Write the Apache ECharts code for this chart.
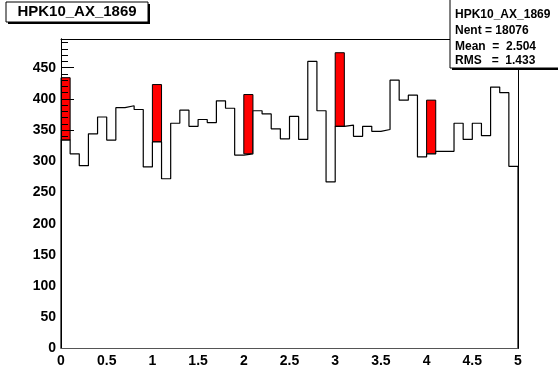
<!DOCTYPE html>
<html>
<head>
<meta charset="utf-8">
<script src="https://cdn.jsdelivr.net/npm/echarts@6/dist/echarts.min.js"></script>
<style>
  html, body { margin: 0; padding: 0; background: #fff; }
  #chart { width: 558px; height: 373px; }
</style>
</head>
<body>
<div id="chart"></div>
<script>
// ---- data ----
const histName = "HPK10_AX_1869";
const xMin = 0;
const xMax = 5;
const binWidth = 0.1;
const counts = [
  334, 312, 293, 344, 371, 334, 386, 389, 383, 291,
  331, 272, 361, 382, 356, 367, 362, 397, 385, 310,
  312, 381, 376, 352, 336, 372, 335, 460, 381, 267,
  356, 358, 340, 356, 348, 351, 430, 398, 406, 307,
  312, 316, 316, 361, 335, 361, 341, 419, 410, 292
];
const redStart = [0, 1, 2, 3, 4];
const redLow = [334, 331, 312, 356, 312];
const redHigh = [434, 423, 407, 474, 398];
const yMax = 496;
const statsLines = [
  "HPK10_AX_1869",
  "Nent = 18076",
  "Mean  =  2.504",
  "RMS   =  1.433"
];

// ---- build series data ----
const stepData = [[xMin, 0]];
counts.forEach((c, i) => stepData.push([xMin + i * binWidth, c]));
stepData.push([xMax, counts[counts.length - 1]]);
stepData.push([xMax, 0]);

const redData = redStart.map((x, i) => [x, redLow[i], redHigh[i]]);

const FONT = "'Liberation Sans', Arial, Helvetica, sans-serif";

const chart = echarts.init(document.getElementById('chart'), null, { renderer: 'canvas' });
chart.setOption({
  animation: false,
  backgroundColor: '#fff',
  grid: { left: 61, right: 40, top: 39, bottom: 24.5, containLabel: false },
  xAxis: [
    {
      type: 'value', min: xMin, max: xMax, interval: 0.5, position: 'bottom', z: 5,
      axisLine: { show: true, onZero: false, lineStyle: { color: '#555', width: 1 } },
      axisTick: { show: false },
      splitLine: { show: false },
      axisLabel: { color: '#000', fontFamily: FONT, fontWeight: 'bold', fontSize: 14, margin: 6 }
    },
    {
      type: 'value', min: xMin, max: xMax, position: 'top', z: 5,
      axisLine: { show: true, onZero: false, lineStyle: { color: '#000', width: 1 } },
      axisTick: { show: false }, axisLabel: { show: false }, splitLine: { show: false }
    }
  ],
  yAxis: [
    {
      type: 'value', min: 0, max: yMax, interval: 50, position: 'left', z: 1,
      axisLine: { show: true, onZero: false, lineStyle: { color: '#000', width: 1 } },
      axisTick: { show: true, inside: true, length: 13, lineStyle: { color: '#000', width: 1 } },
      minorTick: { show: true, splitNumber: 5, length: 7, lineStyle: { color: '#000', width: 1 } },
      splitLine: { show: false },
      axisLabel: { color: '#000', fontFamily: FONT, fontWeight: 'bold', fontSize: 14, margin: 5, showMaxLabel: false }
    },
    {
      type: 'value', min: 0, max: yMax, position: 'right', z: 5,
      axisLine: { show: true, onZero: false, lineStyle: { color: '#000', width: 1 } },
      axisTick: { show: false }, axisLabel: { show: false }, splitLine: { show: false }
    },
    {
      type: 'value', min: 0, max: yMax, position: 'left', offset: 0, z: 5,
      axisLine: { show: true, onZero: false, lineStyle: { color: '#000', width: 1 } },
      axisTick: { show: false }, axisLabel: { show: false }, splitLine: { show: false }
    }
  ],
  series: [
    {
      type: 'custom', xAxisIndex: 0, yAxisIndex: 0, z: 0,
      data: redData,
      renderItem: function (params, api) {
        const x0 = api.value(0), lo = api.value(1), hi = api.value(2);
        const p1 = api.coord([x0, hi]);
        const p2 = api.coord([x0 + binWidth, lo]);
        return {
          type: 'rect',
          shape: { x: p1[0], y: p1[1], width: p2[0] - p1[0], height: p2[1] - p1[1] },
          style: { fill: '#ff0000', stroke: '#000', lineWidth: 1 }
        };
      }
    },
    {
      type: 'line', xAxisIndex: 0, yAxisIndex: 0,
      data: stepData, step: 'end', symbol: 'none',
      lineStyle: { color: '#000', width: 1.2 },
      areaStyle: { color: '#fff', opacity: 1, origin: 'start' },
      z: 2
    }
  ],
  graphic: [
    { type: 'rect', shape: { x: 8, y: 4, width: 142, height: 20 }, style: { fill: '#000' }, z: 10 },
    { type: 'rect', shape: { x: 6, y: 2, width: 142, height: 20 }, style: { fill: '#fff', stroke: '#000', lineWidth: 1 }, z: 11 },
    { type: 'text', x: 77, y: 12, z: 12,
      style: { text: histName, fill: '#000', font: "bold 15px " + FONT, align: 'center', verticalAlign: 'middle' } },
    { type: 'rect', shape: { x: 452, y: 1, width: 110, height: 69 }, style: { fill: '#000' }, z: 10 },
    { type: 'rect', shape: { x: 450, y: -1, width: 110, height: 69 }, style: { fill: '#fff', stroke: '#000', lineWidth: 1 }, z: 11 },
    { type: 'text', x: 455, y: 15, z: 12,
      style: { text: statsLines[0], fill: '#000', font: "bold 12px " + FONT, align: 'left', verticalAlign: 'middle' } },
    { type: 'text', x: 455, y: 31, z: 12,
      style: { text: statsLines[1], fill: '#000', font: "bold 12px " + FONT, align: 'left', verticalAlign: 'middle' } },
    { type: 'text', x: 455, y: 46.5, z: 12,
      style: { text: statsLines[2], fill: '#000', font: "bold 12px " + FONT, align: 'left', verticalAlign: 'middle' } },
    { type: 'text', x: 455, y: 60.5, z: 12,
      style: { text: statsLines[3], fill: '#000', font: "bold 12px " + FONT, align: 'left', verticalAlign: 'middle' } }
  ]
});
</script>
</body>
</html>
